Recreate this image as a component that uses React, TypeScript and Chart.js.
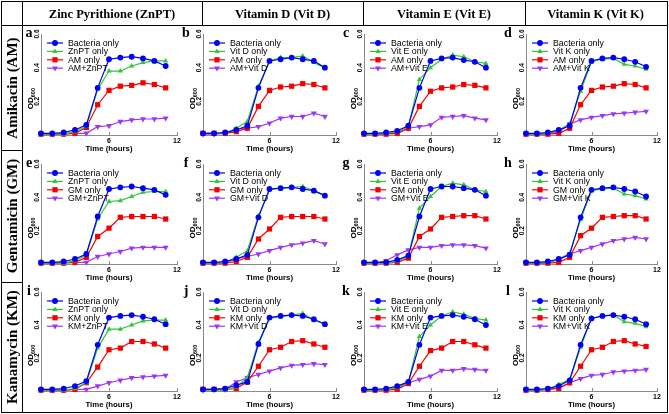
import React, { useEffect, useRef } from "react";
import { Chart, registerables } from "chart.js";
Chart.register(...registerables);

// ---------- data ----------
const hours = [0, 1, 2, 3, 4, 5, 6, 7, 8, 9, 10, 11];
const xTickValues = [6, 12];
const yTickValues = [0.2, 0.4, 0.6];
const columnTitles = ["Zinc Pyrithione (ZnPT)", "Vitamin D (Vit D)", "Vitamin E (Vit E)", "Vitamin K (Vit K)"];
const supplementNames = ["ZnPT", "Vit D", "Vit E", "Vit K"];
const rowTitles = ["Amikacin (AM)", "Gentamicin (GM)", "Kanamycin (KM)"];
const antibioticNames = ["AM", "GM", "KM"];
const panelLetters = ["a", "b", "c", "d", "e", "f", "g", "h", "i", "j", "k", "l"];
const seriesColors = ["#0000f5", "#33c633", "#f50000", "#9d35f2"];

const aBacteria = [0.01, 0.01, 0.015, 0.03, 0.06, 0.28, 0.45, 0.46, 0.465, 0.455, 0.44, 0.41];
const aSupplement = [0.005, 0.005, 0.005, 0.02, 0.05, 0.27, 0.38, 0.38, 0.41, 0.43, 0.44, 0.44];
const aAntibiotic = [0.005, 0.005, 0.005, 0.01, 0.045, 0.18, 0.265, 0.29, 0.295, 0.31, 0.3, 0.28];
const aCombo = [0.005, 0.005, 0.01, 0.01, 0.01, 0.05, 0.055, 0.08, 0.09, 0.095, 0.095, 0.1];

const bBacteria = [0.01, 0.01, 0.015, 0.03, 0.055, 0.28, 0.44, 0.45, 0.46, 0.45, 0.44, 0.4];
const bSupplement = [0.01, 0.01, 0.01, 0.04, 0.08, 0.29, 0.44, 0.46, 0.46, 0.47, 0.43, 0.4];
const bAntibiotic = [0.01, 0.01, 0.01, 0.02, 0.04, 0.17, 0.265, 0.285, 0.29, 0.305, 0.3, 0.28];
const bCombo = [0.005, 0.005, 0.01, 0.035, 0.04, 0.05, 0.07, 0.1, 0.11, 0.11, 0.13, 0.11];

const cBacteria = [0.01, 0.01, 0.015, 0.025, 0.055, 0.28, 0.44, 0.455, 0.46, 0.445, 0.435, 0.4];
const cSupplement = [0.005, 0.005, 0.01, 0.02, 0.05, 0.33, 0.4, 0.45, 0.475, 0.465, 0.435, 0.425];
const cAntibiotic = [0.005, 0.005, 0.005, 0.01, 0.04, 0.17, 0.26, 0.28, 0.285, 0.3, 0.295, 0.28];
const cCombo = [0.005, 0.005, 0.01, 0.01, 0.04, 0.05, 0.06, 0.105, 0.11, 0.115, 0.1, 0.09];

const dBacteria = [0.01, 0.01, 0.015, 0.03, 0.055, 0.28, 0.44, 0.455, 0.46, 0.45, 0.435, 0.405];
const dSupplement = [0.005, 0.005, 0.01, 0.03, 0.065, 0.26, 0.435, 0.45, 0.455, 0.42, 0.41, 0.39];
const dAntibiotic = [0.005, 0.005, 0.005, 0.01, 0.04, 0.18, 0.265, 0.285, 0.29, 0.305, 0.3, 0.28];
const dCombo = [0.005, 0.005, 0.01, 0.02, 0.065, 0.09, 0.105, 0.115, 0.125, 0.13, 0.135, 0.14];

const eBacteria = [0.01, 0.01, 0.015, 0.03, 0.06, 0.285, 0.45, 0.46, 0.465, 0.455, 0.445, 0.415];
const eSupplement = [0.005, 0.005, 0.005, 0.02, 0.055, 0.27, 0.375, 0.38, 0.405, 0.43, 0.435, 0.435];
const eAntibiotic = [0.005, 0.005, 0.005, 0.01, 0.04, 0.165, 0.215, 0.28, 0.285, 0.285, 0.285, 0.27];
const eCombo = [0.005, 0.005, 0.01, 0.01, 0.01, 0.045, 0.06, 0.075, 0.095, 0.1, 0.1, 0.1];

const fBacteria = [0.01, 0.01, 0.015, 0.03, 0.055, 0.28, 0.45, 0.455, 0.46, 0.45, 0.44, 0.41];
const fSupplement = [0.005, 0.005, 0.01, 0.04, 0.08, 0.29, 0.445, 0.455, 0.46, 0.465, 0.44, 0.41];
const fAntibiotic = [0.005, 0.005, 0.005, 0.015, 0.04, 0.15, 0.21, 0.28, 0.285, 0.285, 0.285, 0.27];
const fCombo = [0.005, 0.005, 0.01, 0.03, 0.045, 0.06, 0.08, 0.1, 0.115, 0.125, 0.14, 0.12];

const gBacteria = [0.01, 0.01, 0.01, 0.025, 0.05, 0.285, 0.45, 0.465, 0.465, 0.455, 0.445, 0.41];
const gSupplement = [0.005, 0.005, 0.005, 0.015, 0.045, 0.335, 0.405, 0.465, 0.485, 0.475, 0.445, 0.435];
const gAntibiotic = [0.005, 0.005, 0.005, 0.01, 0.035, 0.165, 0.21, 0.28, 0.285, 0.29, 0.29, 0.27];
const gCombo = [0.005, 0.005, 0.02, 0.055, 0.085, 0.1, 0.1, 0.11, 0.115, 0.115, 0.11, 0.095];

const hBacteria = [0.01, 0.01, 0.015, 0.03, 0.055, 0.28, 0.445, 0.455, 0.46, 0.45, 0.435, 0.405];
const hSupplement = [0.005, 0.005, 0.01, 0.03, 0.065, 0.265, 0.44, 0.45, 0.455, 0.42, 0.41, 0.39];
const hAntibiotic = [0.005, 0.005, 0.005, 0.01, 0.04, 0.17, 0.215, 0.28, 0.285, 0.29, 0.29, 0.27];
const hCombo = [0.005, 0.005, 0.01, 0.025, 0.06, 0.08, 0.1, 0.12, 0.14, 0.15, 0.16, 0.15];

const iBacteria = [0.01, 0.01, 0.015, 0.03, 0.06, 0.28, 0.445, 0.455, 0.46, 0.45, 0.435, 0.405];
const iSupplement = [0.005, 0.005, 0.005, 0.015, 0.05, 0.26, 0.375, 0.375, 0.4, 0.425, 0.43, 0.43];
const iAntibiotic = [0.005, 0.005, 0.005, 0.01, 0.05, 0.145, 0.25, 0.26, 0.3, 0.3, 0.285, 0.26];
const iCombo = [0.005, 0.005, 0.005, 0.01, 0.01, 0.03, 0.05, 0.065, 0.08, 0.085, 0.09, 0.095];

const jBacteria = [0.01, 0.01, 0.015, 0.035, 0.055, 0.285, 0.445, 0.455, 0.46, 0.455, 0.435, 0.405];
const jSupplement = [0.005, 0.005, 0.005, 0.025, 0.08, 0.295, 0.44, 0.45, 0.46, 0.47, 0.43, 0.405];
const jAntibiotic = [0.01, 0.01, 0.01, 0.015, 0.055, 0.15, 0.25, 0.265, 0.3, 0.305, 0.285, 0.265];
const jCombo = [0.005, 0.01, 0.01, 0.055, 0.08, 0.1, 0.12, 0.14, 0.155, 0.16, 0.165, 0.16];

const kBacteria = [0.01, 0.01, 0.015, 0.03, 0.055, 0.28, 0.445, 0.455, 0.46, 0.45, 0.435, 0.4];
const kSupplement = [0.005, 0.005, 0.01, 0.02, 0.05, 0.33, 0.4, 0.455, 0.48, 0.465, 0.44, 0.43];
const kAntibiotic = [0.005, 0.005, 0.005, 0.01, 0.045, 0.15, 0.245, 0.26, 0.3, 0.3, 0.28, 0.26];
const kCombo = [0.005, 0.005, 0.01, 0.02, 0.05, 0.07, 0.09, 0.125, 0.125, 0.135, 0.13, 0.125];

const lBacteria = [0.01, 0.01, 0.015, 0.03, 0.065, 0.28, 0.44, 0.455, 0.46, 0.45, 0.435, 0.405];
const lSupplement = [0.005, 0.005, 0.01, 0.04, 0.07, 0.265, 0.44, 0.455, 0.46, 0.42, 0.41, 0.39];
const lAntibiotic = [0.005, 0.005, 0.01, 0.015, 0.05, 0.15, 0.25, 0.265, 0.3, 0.305, 0.285, 0.27];
const lCombo = [0.005, 0.005, 0.01, 0.02, 0.05, 0.075, 0.095, 0.1, 0.115, 0.12, 0.125, 0.13];

const panelSeries = [
  [aBacteria, aSupplement, aAntibiotic, aCombo],
  [bBacteria, bSupplement, bAntibiotic, bCombo],
  [cBacteria, cSupplement, cAntibiotic, cCombo],
  [dBacteria, dSupplement, dAntibiotic, dCombo],
  [eBacteria, eSupplement, eAntibiotic, eCombo],
  [fBacteria, fSupplement, fAntibiotic, fCombo],
  [gBacteria, gSupplement, gAntibiotic, gCombo],
  [hBacteria, hSupplement, hAntibiotic, hCombo],
  [iBacteria, iSupplement, iAntibiotic, iCombo],
  [jBacteria, jSupplement, jAntibiotic, jCombo],
  [kBacteria, kSupplement, kAntibiotic, kCombo],
  [lBacteria, lSupplement, lAntibiotic, lCombo],
];

// ---------- layout ----------
const colLeft = [41, 203, 364, 526];
const colRight = [177, 336, 497, 657];
const rowTop = [34, 164, 292];
const rowBottom = [135, 264, 391];
const letterX = [29, 186, 346, 508];
const headerLines = [22, 202, 363, 525, 666];
const rowLines = [25, 150, 282, 411];

const SANS = '"Liberation Sans", Arial, sans-serif';
const SERIF = '"Liberation Serif", "Times New Roman", serif';
const axisColor = "#8a8a8a";
const pointStyles = ["circle", "triangle", "rect", "triangle"];
const pointRadii = [2.9, 3.0, 3.7, 3.4];

const ML = 28, MR = 10, MT = 6, MB = 19;

function drawMarker(ctx: CanvasRenderingContext2D, i: number, x: number, y: number) {
  ctx.beginPath();
  const r = pointRadii[i];
  if (i === 0) {
    ctx.arc(x, y, r, 0, Math.PI * 2);
  } else if (i === 2) {
    const s = r * Math.SQRT1_2;
    ctx.rect(x - s, y - s, 2 * s, 2 * s);
  } else {
    const dir = i === 3 ? -1 : 1;
    for (let k = 0; k < 3; k++) {
      const a = (k * 2 * Math.PI) / 3;
      const px = x + Math.sin(a) * r * dir;
      const py = y - Math.cos(a) * r * dir;
      if (k === 0) ctx.moveTo(px, py);
      else ctx.lineTo(px, py);
    }
    ctx.closePath();
  }
  ctx.fill();
}

const decorPlugin = {
  id: "decor",
  afterDraw(chart: any) {
    const ctx: CanvasRenderingContext2D = chart.ctx;
    const area = chart.chartArea;
    const xs = chart.scales.x;
    const ys = chart.scales.y;
    ctx.save();
    // inward x ticks
    ctx.strokeStyle = axisColor;
    ctx.lineWidth = 1;
    for (const v of xTickValues) {
      const px = Math.round(xs.getPixelForValue(v)) + 0.5;
      ctx.beginPath();
      ctx.moveTo(px, area.bottom);
      ctx.lineTo(px, area.bottom - 3);
      ctx.stroke();
    }
    // y tick labels (rotated)
    ctx.fillStyle = "#000";
    ctx.font = `bold 6.5px ${SANS}`;
    ctx.textAlign = "center";
    ctx.textBaseline = "middle";
    for (const v of yTickValues) {
      const py = ys.getPixelForValue(v);
      ctx.save();
      ctx.translate(area.left - 4, py);
      ctx.rotate(-Math.PI / 2);
      ctx.fillText(v.toFixed(1), 0, 0);
      ctx.restore();
    }
    // y title OD600
    ctx.save();
    ctx.translate(area.left - 11, area.top + (area.bottom - area.top) * 0.64);
    ctx.rotate(-Math.PI / 2);
    ctx.textAlign = "left";
    ctx.textBaseline = "alphabetic";
    ctx.font = `bold 8px ${SANS}`;
    const w1 = ctx.measureText("OD").width;
    ctx.font = `bold 5.5px ${SANS}`;
    const w2 = ctx.measureText("600").width;
    const start = -(w1 + w2) / 2;
    ctx.font = `bold 8px ${SANS}`;
    ctx.fillText("OD", start, 3);
    ctx.font = `bold 5.5px ${SANS}`;
    ctx.fillText("600", start + w1, 5);
    ctx.restore();
    // legend
    const lx = area.left + 6;
    ctx.font = `8.8px ${SANS}`;
    ctx.textAlign = "left";
    ctx.textBaseline = "middle";
    chart.data.datasets.forEach((ds: any, i: number) => {
      const ly = area.top + 9 + i * 8.4;
      ctx.strokeStyle = ds.borderColor;
      ctx.fillStyle = ds.borderColor;
      ctx.lineWidth = 1.2;
      ctx.beginPath();
      ctx.moveTo(lx, ly);
      ctx.lineTo(lx + 16, ly);
      ctx.stroke();
      drawMarker(ctx, i, lx + 8, ly);
      ctx.fillStyle = "#000";
      ctx.fillText(ds.label, lx + 21, ly + 0.5);
    });
    ctx.restore();
  },
};

function Panel({ row, col }: { row: number; col: number }) {
  const ref = useRef<HTMLCanvasElement>(null);
  const L = colLeft[col], R = colRight[col], T = rowTop[row], B = rowBottom[row];
  const w = R - L + ML + MR;
  const h = B - T + MT + MB;
  useEffect(() => {
    const idx = row * 4 + col;
    const labels = [
      "Bacteria only",
      `${supplementNames[col]} only`,
      `${antibioticNames[row]} only`,
      `${antibioticNames[row]}+${supplementNames[col]}`,
    ];
    const chart = new Chart(ref.current as HTMLCanvasElement, {
      type: "line",
      data: {
        datasets: panelSeries[idx].map((vals, i) => ({
          label: labels[i],
          data: hours.map((x, j) => ({ x, y: vals[j] })),
          borderColor: seriesColors[i],
          backgroundColor: seriesColors[i],
          borderWidth: 1.2,
          pointStyle: pointStyles[i] as any,
          pointRadius: pointRadii[i],
          pointRotation: i === 3 ? 180 : 0,
          pointBorderWidth: 0,
          tension: 0,
          clip: false as any,
        })),
      },
      options: {
        responsive: false,
        animation: false,
        devicePixelRatio: 1,
        events: [],
        layout: { padding: { left: 0, right: MR, top: MT, bottom: 0 } },
        plugins: { legend: { display: false }, tooltip: { enabled: false } },
        scales: {
          x: {
            type: "linear",
            min: 0,
            max: 12,
            afterBuildTicks: (s: any) => {
              s.ticks = xTickValues.map((v) => ({ value: v }));
            },
            afterFit: (s: any) => {
              s.height = MB;
            },
            grid: { display: false, drawTicks: false },
            border: { display: true, color: axisColor, width: 1 },
            ticks: { padding: 2, color: "#000", font: { family: SANS, size: 7, weight: "bold" }, maxRotation: 0 },
            title: {
              display: true,
              text: "Time (hours)",
              color: "#000",
              font: { family: SANS, size: 7.8, weight: "bold" },
              padding: { top: 0, bottom: 0 },
            },
          },
          y: {
            type: "linear",
            min: 0,
            max: 0.6,
            afterFit: (s: any) => {
              s.width = ML;
            },
            grid: { display: false, drawTicks: false },
            border: { display: true, color: axisColor, width: 1 },
            ticks: { display: false },
          },
        },
      } as any,
      plugins: [decorPlugin],
    });
    return () => chart.destroy();
  }, [row, col]);
  return (
    <canvas
      ref={ref}
      width={w}
      height={h}
      style={{ position: "absolute", left: L - ML, top: T - MT, width: w, height: h }}
    />
  );
}

export default function App() {
  const lines: React.ReactNode[] = [];
  lines.push(<div key="ob" style={{ position: "absolute", left: 1, top: 1, width: 665, height: 410, border: "1px solid #000", boxSizing: "content-box" }} />);
  lines.push(<div key="hb" style={{ position: "absolute", left: 1, top: 25, width: 666, height: 1, background: "#000" }} />);
  lines.push(<div key="lc" style={{ position: "absolute", left: 22, top: 1, width: 1, height: 411, background: "#000" }} />);
  [202, 363, 525].forEach((x) =>
    lines.push(<div key={"hs" + x} style={{ position: "absolute", left: x, top: 1, width: 1, height: 25, background: "#000" }} />)
  );
  [150, 282].forEach((y) =>
    lines.push(<div key={"rs" + y} style={{ position: "absolute", left: 1, top: y, width: 22, height: 1, background: "#000" }} />)
  );

  const panels: React.ReactNode[] = [];
  for (let r = 0; r < 3; r++) {
    for (let c = 0; c < 4; c++) {
      panels.push(<Panel key={`p${r}${c}`} row={r} col={c} />);
      panels.push(
        <div
          key={`l${r}${c}`}
          style={{
            position: "absolute",
            left: letterX[c],
            top: rowTop[r] - 1,
            transform: "translate(-50%, -50%)",
            font: `bold 14px ${SERIF}`,
            color: "#000",
            lineHeight: "14px",
          }}
        >
          {panelLetters[r * 4 + c]}
        </div>
      );
    }
  }

  const headers = columnTitles.map((t, i) => (
    <div
      key={"h" + i}
      style={{
        position: "absolute",
        left: headerLines[i],
        width: headerLines[i + 1] - headerLines[i],
        top: 6,
        textAlign: "center",
        font: `bold 12.5px ${SERIF}`,
        lineHeight: "16px",
        color: "#000",
        whiteSpace: "nowrap",
      }}
    >
      {t}
    </div>
  ));

  const rowLabels = rowTitles.map((t, i) => (
    <div
      key={"r" + i}
      style={{
        position: "absolute",
        left: 12,
        top: (rowLines[i] + rowLines[i + 1]) / 2,
        transform: "translate(-50%, -50%) rotate(-90deg)",
        font: `bold 15px ${SERIF}`,
        lineHeight: "16px",
        color: "#000",
        whiteSpace: "nowrap",
      }}
    >
      {t}
    </div>
  ));

  return (
    <div style={{ position: "fixed", left: 0, top: 0, width: 669, height: 414, background: "#fff", overflow: "hidden" }}>
      {panels}
      {lines}
      {headers}
      {rowLabels}
    </div>
  );
}
